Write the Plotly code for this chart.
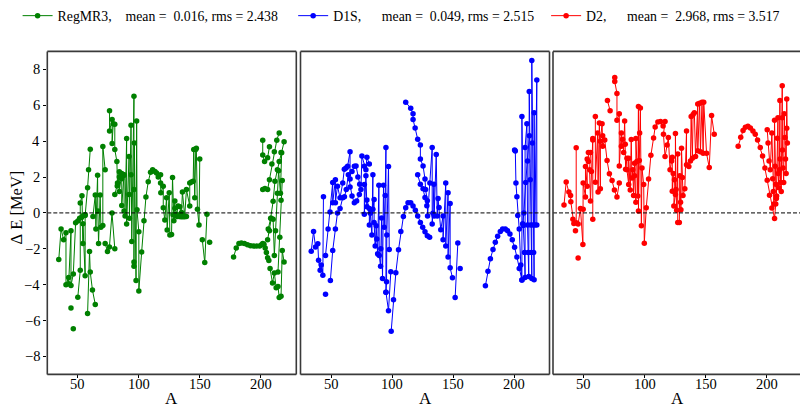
import plotly.graph_objects as go

# ---------------- data (A, Delta E [MeV]); None breaks the line ----------------
regmr3_pts = [
    (34.4,-2.6),(36.3,-0.9),(38.4,-1.5),(40.3,-1.1),(40.3,-4.0),(42.5,-3.6),(42.5,-3.95),(44.4,-1.0),
    (44.4,-4.05),(46.3,-3.4),(48.2,-0.55),(50.0,-0.45),(51.5,-0.3),(53.0,-0.25),(54.5,-0.15),(56.0,-0.1),None,
    (44.4,-5.3),None,(46.3,-6.45),None,
    (50.0,-4.7),(52.0,-3.2),(52.0,0.55),(53.4,0.95),(54.2,-1.7),(54.2,-0.6),(56.0,-3.5),(56.0,-0.15),
    (58.0,1.4),(58.8,2.4),(60.2,3.55),None,
    (58.0,-5.6),(59.6,-2.15),(60.2,-3.3),(62.0,-4.3),(64.3,-5.1),None,
    (62.4,-0.2),(64.3,1.0),(64.8,-0.9),(66.2,2.1),(66.4,0.1),(67.0,-1.7),(68.3,1.0),(68.9,-0.8),
    (70.5,-0.7),(70.5,3.7),(72.4,2.4),None,
    (72.4,-1.7),(74.3,-2.15),(75.9,-1.9),(78.0,0.0),(80.3,-2.0),None,
    (76.0,5.7),(76.0,4.57),(78.1,5.2),(78.1,3.87),(79.0,4.97),(80.3,4.94),(80.3,3.54),(82.0,2.86),
    (82.5,1.67),(84.0,2.3),(84.0,1.2),(86.0,2.2),(86.0,0.42),(87.9,2.13),(87.9,0.1),(88.7,-0.17),
    (90.0,4.15),(90.0,-0.62),(92.0,3.14),(92.0,1.03),(92.3,-0.3),(93.6,4.88),(93.6,2.13),(94.2,-1.6),
    (96.0,6.5),(96.0,1.3),(96.0,-2.97),None,
    (80.3,1.03),(82.3,1.5),(84.0,2.0),(86.0,1.9),(88.0,2.1),None,
    (96.0,-2.73),(96.3,3.9),(97.7,-3.76),(98.2,5.12),(98.5,0.17),(100.0,-1.05),(100.0,-4.35),
    (102.3,-2.18),(104.2,-0.44),(105.8,0.88),(107.7,1.74),(109.6,2.26),(111.3,2.4),(113.2,2.31),
    (114.5,2.22),(115.9,2.0),(117.8,2.13),(117.8,1.67),(118.0,1.12),(120.0,1.49),(120.0,0.29),
    (121.3,-0.4),(122.7,0.84),(123.2,-0.95),(124.9,1.12),(125.4,-1.23),(126.8,-1.2),(127.6,1.98),
    (128.7,-0.44),(129.5,0.66),(129.5,0.26),(131.0,-0.07),(132.2,0.39),(133.6,0.35),(135.0,0.02),
    (135.7,1.16),(137.6,-0.17),(139.0,1.3),(141.7,0.39),(141.7,1.67),(143.1,1.72),(144.5,1.76),
    (145.0,3.54),(145.8,0.84),(146.6,3.54),(147.1,3.6),(148.0,0.2),(149.3,-0.68),(149.9,3.0),None,
    (128.0,-0.1),(130.0,-0.15),(131.5,-0.2),(133.0,-0.2),(134.5,-0.22),(136.0,-0.22),(137.5,-0.22),(139.0,-0.2),None,
    (152.0,-1.49),(154.0,-2.77),(155.8,-0.07),None,(158.0,-1.63),None,
    (177.6,-2.46),(179.8,-1.96),(182.0,-1.71),(184.0,-1.67),(186.5,-1.71),(189.0,-1.78),(191.5,-1.83),
    (194.0,-1.85),(196.5,-1.85),(199.0,-1.85),(200.5,-1.78),(201.5,-1.7),(202.5,-1.75),(203.5,-1.95),
    (204.5,-2.2),(205.5,-2.5),(206.5,-2.65),None,
    (201.5,4.05),(201.5,3.23),(203.0,2.86),(205.5,3.08),(207.0,3.69),None,
    (201.5,1.3),(203.3,1.36),(205.5,1.3),(207.0,1.85),(209.0,2.73),(211.0,3.41),(213.0,4.05),(215.0,4.46),None,
    (206.0,-0.9),(208.0,-0.3),(210.0,0.65),(211.5,1.76),(213.5,2.4),(215.0,2.86),(216.5,3.36),(219.0,3.96),None,
    (205.5,-1.5),(207.0,-1.0),(208.5,-0.3),(210.0,-0.35),(211.0,-2.37),(212.0,-1.0),(213.5,1.1),(214.5,2.35),(216.0,1.1),(217.0,3.35),None,
    (207.5,-3.1),(209.5,-3.9),(211.0,-3.35),(212.5,-4.17),(214.0,-4.1),(215.0,-4.72),(216.5,-4.65),(217.5,-2.1),(219.0,-2.73),None,
    (214.0,-3.3),(215.5,-1.36),(216.5,0.7),(217.5,1.8),None,
]

d1s_pts = [
    (33.8,-2.13),(35.7,-1.03),(37.3,-1.9),(39.2,-1.72),(39.8,-2.64),(41.1,-3.19),(42.0,-2.9),(43.3,-3.47),(43.8,0.9),None,
    (45.5,-4.53),None,
    (45.5,-2.37),(47.6,-0.9),(49.2,0.05),(51.4,1.7),(51.4,0.57),(53.6,1.85),(53.6,0.57),(55.3,1.49),(57.4,0.84),
    (59.6,1.67),(60.9,2.44),(62.3,2.5),(63.6,2.6),(65.6,3.41),(65.6,1.89),None,
    (49.5,-3.76),(51.4,-2.09),(53.6,-0.9),(55.3,0.0),(57.4,0.24),(59.6,0.84),(61.0,0.9),(62.5,1.3),(64.2,2.13),
    (65.6,1.45),(67.2,0.94),(69.1,0.57),(71.0,0.66),(73.2,1.03),(74.5,1.3),(75.3,3.17),(77.3,2.6),(78.6,2.4),
    (79.4,3.1),(81.4,2.73),None,
    (67.2,2.31),(69.1,2.6),(70.5,2.62),(72.0,2.0),(73.5,1.6),None,
    (77.3,1.58),(77.3,-0.07),(78.6,2.07),(79.4,0.35),(79.4,0.72),(81.4,0.24),(81.4,-0.68),(82.2,-0.02),
    (83.5,-1.23),(84.3,2.13),(84.3,0.2),(85.3,0.75),(85.3,-0.53),(86.2,-1.85),(87.0,-0.72),(87.5,-1.45),
    (88.2,-2.28),(89.2,1.54),(89.5,-2.37),(90.6,-2.97),(90.8,-2.0),(91.4,-0.29),(92.2,-3.65),(93.0,1.54),
    (93.6,-0.8),(94.4,0.97),(95.0,3.65),(95.0,-4.42),(95.5,-3.83),(95.7,-1.23),(97.1,2.59),(97.7,-2.04),None,
    (95.0,-4.42),(97.1,-5.45),(99.0,-3.28),None,
    (99.3,-6.59),(101.2,-4.84),(103.1,-3.34),(105.3,-2.06),(107.2,-1.03),(109.3,-0.2),(111.2,0.29),(113.1,0.57),
    (115.3,0.57),(117.2,0.39),(119.1,0.15),(121.0,-0.17),(123.2,-0.53),(125.1,-0.8),(127.0,-1.05),(128.9,-1.27),(130.8,-1.36),None,
    (111.2,6.17),(115.3,5.83),(117.2,5.52),(117.2,5.21),(118.9,4.73),(121.0,4.11),(123.2,3.78),(123.2,3.0),
    (125.4,2.62),(127.0,1.89),(127.5,1.3),(128.9,0.68),(129.1,-0.17),(131.0,1.67),(132.9,3.65),(132.9,-0.62),
    (133.5,-0.02),(134.3,1.6),(134.5,-0.17),(136.2,3.25),(137.0,-0.17),(137.7,0.8),(138.5,0.3),(139.9,-0.94),
    (141.8,-0.17),(141.8,-1.49),(144.0,1.67),(144.0,-1.85),(145.9,1.12),(145.9,-2.46),(147.6,0.53),(147.6,-3.06),
    (149.5,-3.61),None,
    (121.0,2.13),(123.2,1.6),(125.4,1.34),(127.0,0.86),(128.5,0.4),None,
    (151.7,-4.72),(153.9,-1.67),None,(155.8,-3.1),None,
    (176.5,-4.06),(178.6,-3.25),(180.6,-2.55),(182.7,-2.04),(184.6,-1.63),(186.5,-1.3),(188.7,-1.03),(190.6,-0.9),
    (192.8,-0.9),(194.7,-0.99),(196.6,-1.17),(198.5,-1.49),(200.4,-1.91),(202.3,-2.46),(204.2,-3.1),(206.4,-3.74),None,
    (200.4,3.5),(201.0,3.45),(201.5,1.67),(202.3,0.9),(203.0,-0.15),(204.2,-0.9),(205.5,-2.9),(206.4,-3.74),
    (206.4,5.38),(207.5,-0.7),(208.5,-2.2),(209.0,-3.6),(209.0,3.65),(210.5,4.97),(211.0,-0.68),(211.5,-2.2),
    (212.0,-3.55),(212.4,6.77),(213.2,1.85),(213.6,-0.68),(214.0,-2.2),(214.5,-3.65),(214.5,8.5),(215.0,3.9),
    (215.5,-0.68),(216.0,-2.2),(216.4,-3.72),(216.4,5.58),(217.0,-0.68),(218.6,7.41),(218.6,-0.68),None,
    (207.0,-0.6),(208.0,0.0),(209.5,1.7),(211.0,2.9),(212.5,4.3),None,
]

d2_pts = [
    (34.0,0.44),(35.8,1.72),(38.0,1.17),(39.4,0.97),(39.6,0.62),(41.3,-0.35),(42.1,-0.59),(44.0,-0.55),(44.0,3.63),None,
    (43.4,-1.0),None,(45.6,-2.51),None,
    (45.6,-0.62),(47.5,0.24),(49.5,-1.76),(49.7,0.2),(49.7,1.67),(51.6,0.88),(51.6,2.59),(53.0,1.49),(53.0,3.0),
    (54.0,2.86),(54.0,3.36),(55.7,3.36),(55.0,2.4),(55.7,0.66),(56.5,2.31),(57.6,4.06),(57.6,4.15),(57.6,-0.35),None,
    (59.7,5.38),(59.7,1.71),(61.6,4.46),(61.9,1.16),(63.0,5.01),(63.8,1.34),(63.8,4.0),(65.2,4.97),(65.7,4.3),
    (65.7,3.72),(67.4,4.06),(69.3,2.92),(71.2,2.18),(73.4,1.8),(75.3,1.28),(77.4,0.88),(79.3,1.67),None,
    (69.6,6.26),(71.8,5.7),None,
    (75.6,7.54),(75.6,7.32),(77.4,6.66),(77.4,5.16),(79.3,5.52),(79.3,2.62),(81.0,4.46),(81.0,3.72),(82.0,4.1),
    (82.9,3.36),(83.7,5.12),(84.2,3.83),(84.5,2.44),(85.6,3.05),(85.6,2.4),(87.0,1.58),(87.0,3.05),(88.3,1.27),
    (89.1,4.09),(89.7,1.94),(90.4,2.4),(91.0,0.97),(91.8,2.77),(91.8,2.07),(92.9,0.6),(92.9,4.15),(93.7,2.86),
    (94.5,0.94),(95.0,5.93),(95.0,0.1),(95.7,2.92),(96.0,4.46),(96.6,5.85),(97.4,-0.72),(97.9,2.5),(99.3,1.58),
    (99.8,-1.69),(101.4,0.29),(103.3,1.89),(105.2,3.21),(107.4,4.18),(108.7,4.79),(110.9,5.06),(113.1,5.1),
    (115.2,4.84),(116.8,5.1),(115.5,4.39),(116.8,3.14),(118.5,3.78),(119.5,4.2),(120.9,2.4),(122.2,2.9),
    (122.7,3.1),(122.7,1.21),(123.5,2.2),(124.5,1.85),(124.0,0.39),(125.3,1.03),(125.3,4.42),(125.8,1.3),
    (126.3,0.15),(127.2,3.28),(127.2,-0.53),(128.5,-0.53),(128.9,2.07),(129.5,0.6),(129.8,0.17),(130.3,3.6),
    (131.0,1.98),(131.5,0.97),(133.0,1.34),(134.4,4.57),(134.4,2.68),(136.3,2.59),(137.6,2.9),(138.2,5.38),
    (139.2,3.05),(139.8,5.49),(140.8,5.58),(141.8,3.14),(143.6,6.07),(143.6,3.47),(145.2,6.11),(145.8,3.41),
    (147.1,6.17),(148.0,3.32),(148.5,6.17),(150.8,3.32),(153.0,2.53),(154.9,5.43),(157.1,4.39),None,
    (176.7,3.72),(178.8,4.22),(180.7,4.59),(182.6,4.77),(184.7,4.83),(186.7,4.73),(188.8,4.57),(190.7,4.39),
    (192.6,4.07),(194.8,3.65),(196.7,3.17),(198.6,2.5),(200.5,1.82),(202.4,0.99),(204.3,0.28),(206.5,-0.31),
    (207.5,0.5),(208.2,0.94),None,
    (200.5,4.64),(201.2,3.9),(202.0,2.9),(203.0,2.4),(204.3,4.46),(205.0,1.9),(205.5,1.2),(206.0,0.5),
    (206.5,5.16),(207.0,2.6),(207.5,1.6),(208.0,0.8),(208.8,4.16),(209.3,5.3),(209.5,2.2),(210.0,1.4),
    (210.5,2.4),(210.9,6.26),(211.0,3.0),(211.5,1.7),(212.0,1.2),(212.8,7.08),(212.8,5.3),(213.0,3.5),
    (213.5,2.5),(214.0,1.7),(214.4,5.52),(215.0,4.2),(215.5,3.0),(216.0,2.2),(216.5,6.35),(216.5,4.72),(217.0,3.9),None,
]

series_names = ["RegMR3,", "D1S,", "D2,"]
series_means = ["0.016", "0.049", "2.968"]
series_rms = ["2.438", "2.515", "3.517"]
series_colors = ["#008000", "#0000ff", "#ff0000"]
series_points = [regmr3_pts, d1s_pts, d2_pts]

x_ticks = [50, 100, 150, 200]
y_ticks = [-8, -6, -4, -2, 0, 2, 4, 6, 8]

# ---------------- figure ----------------
W, H = 800, 407
FONT = "Liberation Serif"
px_per_A = 249 / 204.0
x_domains = [[47.3 / W, 296.3 / W], [300.5 / W, 549.5 / W], [553.0 / W, 1.0]]
x_ranges = [[25, 229], [25, 229], [25, 25 + 247 / px_per_A]]
y_dom = [1 - 374 / H, 1 - 47 / H]
y_range = [-9.0, 9.0]

fig = go.Figure()
NB = "\u00a0"
pads = [NB * 4, NB * 6, NB * 6]
tails = [NB * 3, NB * 2, ""]
for i in range(3):
    pts = series_points[i]
    xs = [p[0] if p is not None else None for p in pts]
    ys = [p[1] if p is not None else None for p in pts]
    sfx = "" if i == 0 else str(i + 1)
    label = (series_names[i] + pads[i] + "mean =" + NB * 2 + series_means[i] +
             ", rms = " + series_rms[i] + tails[i])
    fig.add_trace(go.Scatter(
        x=xs, y=ys, mode="lines+markers", name=label,
        line=dict(color=series_colors[i], width=1),
        marker=dict(color=series_colors[i], size=5.5),
        connectgaps=False, xaxis="x" + sfx, yaxis="y" + sfx,
    ))

layout = dict(
    width=W, height=H, margin=dict(l=0, r=0, t=0, b=0),
    paper_bgcolor="white", plot_bgcolor="white",
    font=dict(family=FONT, size=14, color="black"),
    showlegend=True,
    legend=dict(orientation="h", x=0.022, y=1.012, xanchor="left", yanchor="top",
                font=dict(family=FONT, size=13.8), itemwidth=30,
                bgcolor="rgba(0,0,0,0)", tracegroupgap=0),
)
for i in range(3):
    sfx = "" if i == 0 else str(i + 1)
    layout["xaxis" + sfx] = dict(
        domain=x_domains[i], range=x_ranges[i], anchor="y" + sfx,
        tickmode="array", tickvals=x_ticks, showticklabels=False,
        ticks="outside", ticklen=3, tickcolor="black",
        showgrid=False, zeroline=False, showline=False,
    )
    layout["yaxis" + sfx] = dict(
        domain=y_dom, range=y_range, anchor="x" + sfx,
        tickmode="array", tickvals=y_ticks, showticklabels=False,
        ticks="outside" if i == 0 else "", ticklen=3, tickcolor="black",
        showgrid=False, zeroline=False, showline=False,
    )
fig.update_layout(**layout)

frame_col = "#3a3a3a"
for i in range(3):
    sfx = "" if i == 0 else str(i + 1)
    xr = "x" + sfx + " domain"
    yr = "y" + sfx + " domain"
    fig.add_shape(type="line", xref=xr, yref="y" + sfx, x0=0, x1=1, y0=0, y1=0,
                  line=dict(color="black", width=1, dash="4px,2px"), layer="above")
    x_right = 1 if i < 2 else 1.05
    for (x0, y0, x1, y1) in [(0, 0, 0, 1), (0, 0, x_right, 0), (0, 1, x_right, 1), (1, 0, 1, 1)]:
        if i == 2 and x0 == 1:
            continue
        fig.add_shape(type="line", xref=xr, yref=yr, x0=x0, y0=y0, x1=x1, y1=y1,
                      line=dict(color=frame_col, width=1.6), layer="above")
    for v in x_ticks:
        fig.add_annotation(text=str(v), xref="x" + sfx, yref="paper", x=v, y=1 - 383.5 / H,
                           xanchor="center", yanchor="middle", showarrow=False,
                           font=dict(family=FONT, size=14.5, color="black"))
    fig.add_annotation(text="A", xref=xr, yref="paper", x=0.5 if i < 2 else 0.5 * 249 / 247,
                       y=1 - 398.5 / H, yanchor="middle", xanchor="center", showarrow=False,
                       font=dict(family=FONT, size=17))

for v in y_ticks:
    txt = ("\u2212" + str(-v)) if v < 0 else str(v)
    fig.add_annotation(text=txt, xref="paper", yref="y", x=41.5 / W, y=v,
                       xanchor="right", yanchor="middle", showarrow=False,
                       font=dict(family=FONT, size=14.5, color="black"))

fig.add_annotation(text="\u0394\u00a0E [MeV]", xref="paper", yref="paper", x=16 / W, y=1 - 205 / H,
                   xanchor="center", yanchor="middle",
                   textangle=-90, showarrow=False, font=dict(family=FONT, size=16.5))

fig.write_html("out.html")
